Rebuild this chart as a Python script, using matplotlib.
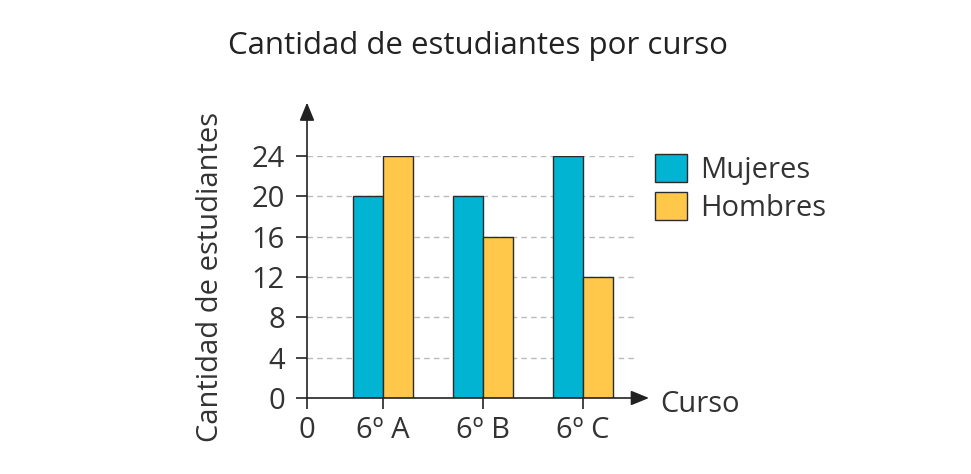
import matplotlib
matplotlib.use("Agg")
import matplotlib.pyplot as plt
from matplotlib.patches import Patch

cursos = ["6º A", "6º B", "6º C"]
mujeres = [20, 20, 24]
hombres = [24, 16, 12]
yticks = [0, 4, 8, 12, 16, 20, 24]

BLUE = "#00B4D2"
YELLOW = "#FFC84B"
EDGE = "#2b2b2b"
TXT = "#333333"
FONT = "Open Sans"
FS = 21

W, H = 971, 474
fig = plt.figure(figsize=(W / 100, H / 100), dpi=100)
ax = fig.add_axes([307 / W, 1 - 398 / H, (637 - 307) / W, (398 - 156) / H])
x0 = 0.24
ax.set_xlim(x0, x0 + 3.30)
ax.set_ylim(0, 24)

pos = [1, 2, 3]
bw = 0.30
ax.bar([p - bw / 2 for p in pos], mujeres, width=bw, color=BLUE, edgecolor=EDGE, linewidth=1.0, zorder=3)
ax.bar([p + bw / 2 for p in pos], hombres, width=bw, color=YELLOW, edgecolor=EDGE, linewidth=1.0, zorder=3)

for t in yticks[1:]:
    ax.axhline(t, color="#bbbbbb", linestyle=(0, (4, 3)), linewidth=1.0, zorder=1)

for s in ax.spines.values():
    s.set_visible(False)

ax.annotate("", xy=(x0, 29.3), xytext=(x0, 0), xycoords="data",
            arrowprops=dict(arrowstyle="-|>,head_length=1.1,head_width=0.45", color="#222222", lw=1.2,
                            shrinkA=0, shrinkB=0), annotation_clip=False)
ax.annotate("", xy=(x0 + 3.42, 0), xytext=(x0, 0), xycoords="data",
            arrowprops=dict(arrowstyle="-|>,head_length=1.1,head_width=0.45", color="#222222", lw=1.2,
                            shrinkA=0, shrinkB=0), annotation_clip=False)

ax.set_yticks(yticks)
ax.set_yticklabels([str(t) for t in yticks], fontsize=FS, color=TXT, family=FONT)
ax.set_xticks([x0] + pos)
ax.set_xticklabels(["0"] + cursos, fontsize=FS, color=TXT, family=FONT)
ax.tick_params(axis="y", length=8, width=1.2, color="#222222", pad=8, direction="out")
ax.tick_params(axis="x", length=8, width=1.2, color="#222222", pad=5, direction="out")

ax.set_ylabel("Cantidad de estudiantes", fontsize=FS, color=TXT, family=FONT, labelpad=19)
fig.text(660 / W, 1 - 405 / H, "Curso", fontsize=FS, color=TXT, family=FONT, ha="left", va="center")
fig.text(478 / W, 1 - 46 / H, "Cantidad de estudiantes por curso", fontsize=22.5, color="#222222",
         family=FONT, ha="center", va="center")

handles = [Patch(facecolor=BLUE, edgecolor=EDGE, label="Mujeres"),
           Patch(facecolor=YELLOW, edgecolor=EDGE, label="Hombres")]
fig.legend(handles=handles, loc="upper left", bbox_to_anchor=(655 / W, 1 - 154 / H), frameon=False,
           prop={"family": FONT, "size": FS}, labelcolor=TXT, handlelength=1.1, handleheight=1.1,
           handletextpad=0.45, labelspacing=0.25, borderaxespad=0, borderpad=0)

fig.savefig("out.png", dpi=100)
